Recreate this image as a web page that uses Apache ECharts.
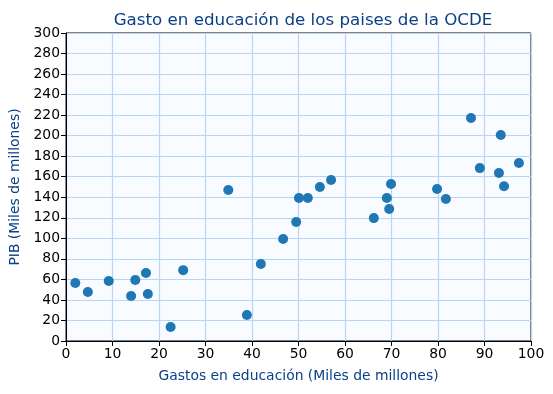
<!DOCTYPE html>
<html><head><meta charset="utf-8">
<script src="https://cdn.jsdelivr.net/npm/echarts@6/dist/echarts.min.js"></script>
<style>html,body{margin:0;padding:0;background:#fff}#c{width:553px;height:394px}</style>
</head><body><div id="c"></div>
<script>
const gastos = [2.0, 4.7, 9.2, 14.0, 14.9, 17.2, 17.6, 22.5, 25.2, 34.9, 38.9, 41.9, 46.7, 49.5, 50.1, 52.0, 54.6, 57.0, 66.2, 69.0, 69.5, 69.9, 79.8, 81.7, 87.1, 89.0, 93.1, 93.5, 94.2, 97.4];
const pib    = [56.5, 47.7, 58.4, 43.8, 59.4, 66.2, 45.8, 13.6, 69.0, 147.0, 25.3, 75.0, 99.3, 115.9, 139.3, 139.3, 150.0, 156.8, 119.7, 139.3, 128.5, 152.9, 148.0, 138.3, 217.2, 168.4, 163.6, 200.6, 150.8, 173.4];
const xTicks = [0,10,20,30,40,50,60,70,80,90,100];
const yTicks = [0,20,40,60,80,100,120,140,160,180,200,220,240,260,280,300];
const titleText = 'Gasto en educación de los paises de la OCDE';
const xName = 'Gastos en educación (Miles de millones)';
const yName = 'PIB (Miles de millones)';

const font = 'DejaVu Sans';
const nameColor = '#0b3f87';
const gridColor = '#b9d5f1';
const chart = echarts.init(document.getElementById('c'), null, {renderer:'canvas'});
chart.setOption({
  animation:false,
  backgroundColor:'#ffffff',
  title:{text:titleText,left:298,textAlign:'center',top:7,textStyle:{fontFamily:font,fontSize:16.7,fontWeight:'normal',color:nameColor}},
  grid:{left:66,right:22,top:33,bottom:53,show:true,backgroundColor:'#f8fbff',borderColor:'#000',borderWidth:1,containLabel:false},
  xAxis:{type:'value',min:xTicks[0],max:xTicks[xTicks.length-1],interval:10,
    name:xName,nameLocation:'middle',nameGap:28,nameTextStyle:{fontFamily:font,fontSize:13.9,color:nameColor},
    axisLine:{show:true,onZero:false,lineStyle:{color:'#000',width:1}},
    axisTick:{show:true,length:5,lineStyle:{color:'#000'}},
    axisLabel:{fontFamily:font,fontSize:13.9,color:'#000',margin:6},
    splitLine:{show:true,lineStyle:{color:gridColor,width:1.2}}},
  yAxis:{type:'value',min:yTicks[0],max:yTicks[yTicks.length-1],interval:20,
    name:yName,nameLocation:'middle',nameGap:41,nameRotate:90,nameTextStyle:{fontFamily:font,fontSize:13.9,color:nameColor},
    axisLine:{show:true,onZero:false,lineStyle:{color:'#000',width:1}},
    axisTick:{show:true,length:5,lineStyle:{color:'#000'}},
    axisLabel:{fontFamily:font,fontSize:13.9,color:'#000',margin:6},
    splitLine:{show:true,lineStyle:{color:gridColor,width:1.2}}},
  series:[{type:'scatter',data:gastos.map((g,i)=>[g,pib[i]]),symbol:'circle',symbolSize:10,
    itemStyle:{color:'#1f77b4',opacity:1}}]
});
</script></body></html>
